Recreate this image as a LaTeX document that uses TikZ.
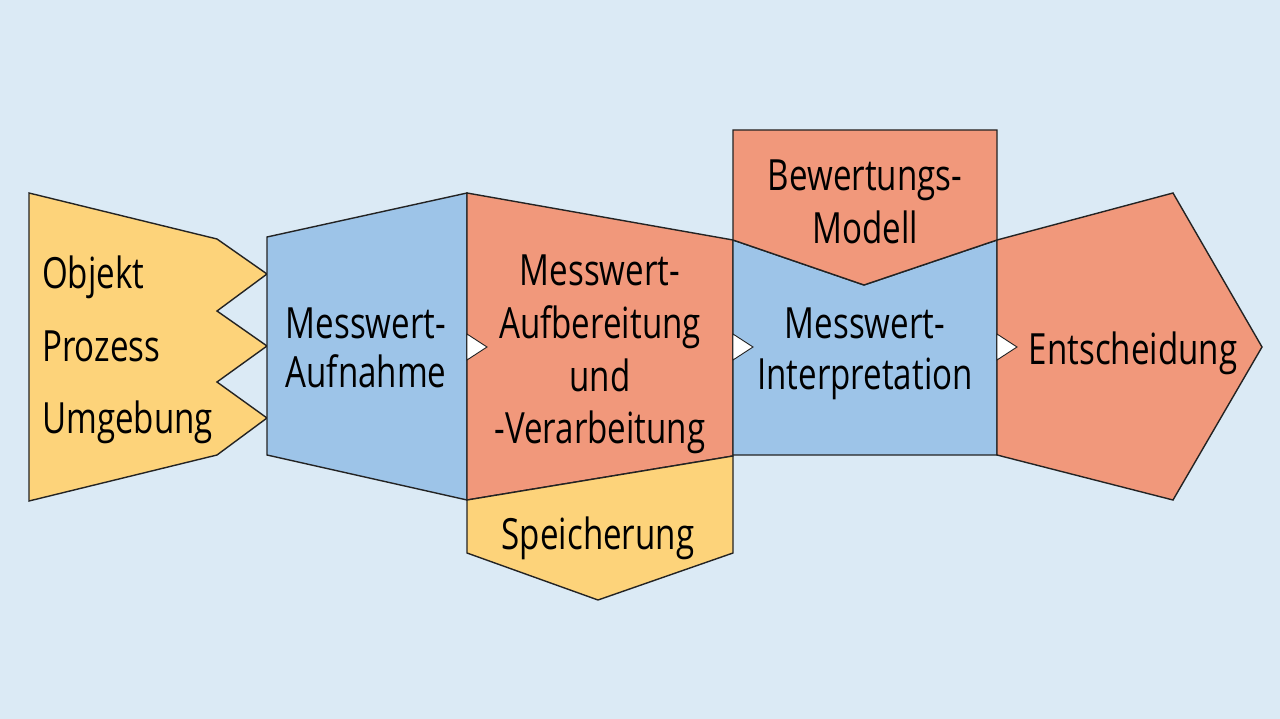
\documentclass[tikz,border=0pt]{standalone}
\usepackage{fontspec}
\setmainfont{Open Sans}[FakeStretch=0.77]
\definecolor{bg}{RGB}{219,234,245}
\definecolor{yel}{RGB}{253,211,122}
\definecolor{sal}{RGB}{241,152,123}
\definecolor{blu}{RGB}{157,196,232}
\definecolor{edge}{RGB}{35,35,35}
\tikzset{
  part/.style={draw=edge, line width=1.4pt, line join=miter},
  lbl/.style={inner sep=0pt, anchor=base, text=black, font=\fontsize{43}{51}\selectfont},
  lbll/.style={lbl, anchor=base west},
  tip/.style={fill=white, draw=edge, line width=0.9pt, line join=miter}
}
\begin{document}
\begin{tikzpicture}[x=1pt,y=-1pt]
\fill[bg] (0,0) rectangle (1280,719);
\useasboundingbox (0,0) rectangle (1280,719);

% shapes
\filldraw[part, fill=yel] (29,193) -- (217,239) -- (267,274) -- (217,311) -- (267,346) -- (217,382) -- (267,418) -- (217,455) -- (29,501) -- cycle;
\filldraw[part, fill=blu] (267,237) -- (467,193) -- (467,500) -- (267,455) -- cycle;
\filldraw[part, fill=sal] (467,193) -- (733,240) -- (733,456) -- (467,500) -- cycle;
\filldraw[part, fill=yel] (467,500) -- (733,456) -- (733,553) -- (598,600) -- (467,553) -- cycle;
\filldraw[part, fill=blu] (733,240) -- (864,285) -- (997,240) -- (997,455) -- (733,455) -- cycle;
\filldraw[part, fill=sal] (733,130) -- (997,130) -- (997,240) -- (864,285) -- (733,240) -- cycle;
\filldraw[part, fill=sal] (997,240) -- (1173,193) -- (1262,347) -- (1173,500) -- (997,455) -- cycle;

% labels
\node[lbll] (obj) at (42,289) {Objekt};
\node[lbll] (proz) at (42,361) {Prozess};
\node[lbll] (umg) at (42,433) {Umgebung};

\node[lbl] (aufn1) at (366,338) {Messwert-};
\node[lbl] (aufn2) at (366,388) {Aufnahme};

\node[lbl] (aufb1) at (600,286) {Messwert-};
\node[lbl] (aufb2) at (600,338) {Aufbereitung};
\node[lbl] (aufb3) at (600,391) {und};
\node[lbl] (aufb4) at (600,443) {-Verarbeitung};

\node[lbl] (spei) at (598,549) {Speicherung};

\node[lbl] (bew1) at (865,191) {Bewertungs-};
\node[lbl] (bew2) at (865,244) {Modell};

\node[lbl] (int1) at (865,338) {Messwert-};
\node[lbl] (int2) at (865,389) {Interpretation};

\node[lbl] (ent) at (1133,364) {Entscheidung};

% white arrow tips between the stages
\coordinate (a1) at (467,347);
\coordinate (a2) at (733,347);
\coordinate (a3) at (997,347);
\foreach \c in {a1,a2,a3}{
  \filldraw[tip] ([yshift=-13pt]\c) -- ([xshift=20pt]\c) -- ([yshift=13pt]\c) -- cycle;
}
\end{tikzpicture}
\end{document}
